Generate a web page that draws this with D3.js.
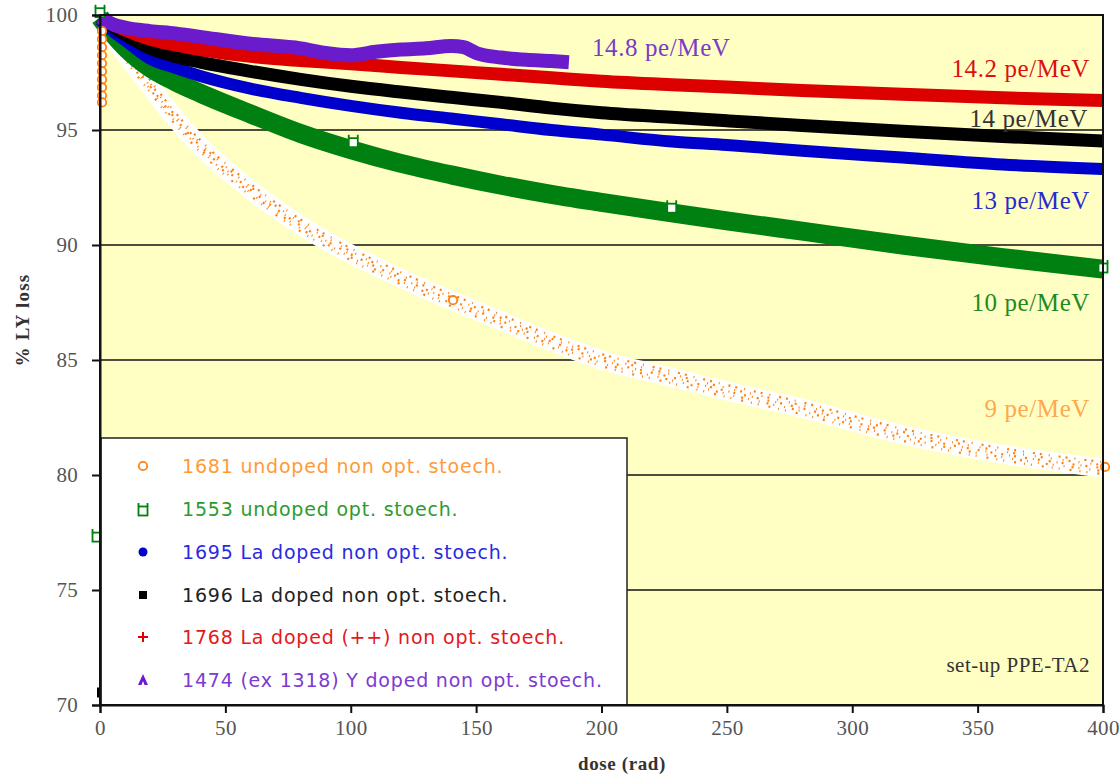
<!DOCTYPE html>
<html>
<head>
<meta charset="utf-8">
<script src="https://cdn.jsdelivr.net/npm/d3@7"></script>
<style>
  html, body { margin: 0; padding: 0; background: #ffffff; }
  svg { display: block; }
</style>
</head>
<body>
<svg id="chart" width="1120" height="775"></svg>
<script>
// Dose grid (rad) shared by the continuous measurement bands
const doses = [0, 5, 10, 20, 30, 40, 60, 80, 100, 120, 140, 160, 180, 200, 228, 250, 280, 320, 360, 400];

// Light yield (%) per crystal along the dose grid
const ly1681 = [99.6, 99.0, 98.3, 96.9, 95.5, 94.3, 92.4, 90.85, 89.6, 88.55, 87.6, 86.7, 85.8, 85.0, 84.25, 83.65, 82.9, 81.75, 80.9, 80.3];
const ly1553 = [99.9, 99.2, 98.6, 97.7, 97.1, 96.6, 95.7, 94.85, 94.15, 93.55, 93.05, 92.6, 92.2, 91.85, 91.4, 91.05, 90.6, 90.0, 89.45, 88.95];
const ly1695 = [99.8, 99.3, 98.9, 98.1, 97.7, 97.35, 96.8, 96.4, 96.05, 95.75, 95.5, 95.25, 95.0, 94.8, 94.5, 94.35, 94.1, 93.8, 93.5, 93.3];
const ly1696 = [99.9, 99.5, 99.15, 98.55, 98.2, 97.95, 97.55, 97.2, 96.9, 96.65, 96.42, 96.2, 95.95, 95.75, 95.55, 95.4, 95.2, 94.95, 94.72, 94.52];
const ly1768 = [99.9, 99.6, 99.35, 98.95, 98.7, 98.5, 98.2, 98.02, 97.88, 97.72, 97.57, 97.42, 97.27, 97.12, 96.97, 96.87, 96.72, 96.55, 96.4, 96.28];

// Crystal 1474 was measured up to ~187 rad only
const doses1474 = [0, 5, 10, 20, 30, 40, 60, 80, 90, 100, 110, 120, 130, 140, 145, 150, 160, 170, 180, 187];
const ly1474 = [99.9, 99.6, 99.45, 99.3, 99.2, 99.05, 98.75, 98.55, 98.35, 98.25, 98.4, 98.5, 98.55, 98.65, 98.6, 98.35, 98.15, 98.05, 98.0, 97.95];

// Individual plotted markers [dose, LY]
const marks1681 = [[0, 99.3], [0, 98.95], [0, 98.6], [0, 98.25], [0, 97.9], [0, 97.55], [0, 97.2], [0, 96.85], [0, 96.5], [0, 96.2], [140, 87.6], [400, 80.35]];
const marks1553 = [[0, 100.1], [101, 94.45], [228, 91.6], [400, 89.0], [0, 77.3]];
const marks1696 = [[0, 70.5]];

// Axis ticks
const xTicks = [0, 50, 100, 150, 200, 250, 300, 350, 400];
const yTicks = [70, 75, 80, 85, 90, 95, 100];

// Legend entries and per-curve annotations
const legendLabels = [
  "1681 undoped non opt. stoech.",
  "1553 undoped opt. stoech.",
  "1695 La doped non opt. stoech.",
  "1696 La doped non opt. stoech.",
  "1768 La doped (++) non opt. stoech.",
  "1474 (ex 1318) Y doped non opt. stoech."
];
const curveNotes = ["9 pe/MeV", "10 pe/MeV", "13 pe/MeV", "14 pe/MeV", "14.2 pe/MeV", "14.8 pe/MeV"];
const noteLY = [82.9, 87.5, 91.95, 95.5, 97.7, 98.6];

const svg = d3.select("#chart");
const pLeft = 100, pRight = 1103, pTop = 15, pBottom = 705;

const x = d3.scaleLinear().domain([0, 400]).range([pLeft, pRight]);
const y = d3.scaleLinear().domain([70, 100]).range([pBottom, pTop]);

const colors = {
  c1681: "#ff8010", c1553: "#008010", c1695: "#0000cc",
  c1696: "#000000", c1768: "#dd0000", c1474: "#6a1ccc"
};
const textColors = ["#ff9a3a", "#2e9a2e", "#2a2ae0", "#222222", "#e4181c", "#7c3ad0"];
const noteColors = ["#ffa850", "#1f8a1f", "#2a2acc", "#333333", "#dd1010", "#7a3cc8"];
const serif = "'Liberation Serif', 'Times New Roman', serif";

// plot background
svg.append("rect")
  .attr("x", pLeft).attr("y", pTop)
  .attr("width", pRight - pLeft).attr("height", pBottom - pTop)
  .attr("fill", "#ffffc4");

// horizontal grid lines
svg.append("g")
  .selectAll("line")
  .data(yTicks.filter(v => v > 70 && v < 100))
  .join("line")
  .attr("x1", pLeft).attr("x2", pRight)
  .attr("y1", d => y(d)).attr("y2", d => y(d))
  .attr("stroke", "#111").attr("stroke-width", 1.6);

const line = (xs) => d3.line()
  .x((d, i) => x(xs[i]))
  .y(d => y(d))
  .curve(d3.curveMonotoneX);

// orange band: white halo with scattered orange points
const orangePath = line(doses)(ly1681);
svg.append("path").attr("d", orangePath)
  .attr("fill", "none").attr("stroke", "#ffffff").attr("stroke-width", 19)
  .attr("stroke-linecap", "round");
[[-6, "2 7 1 9 2 5", 0], [-3, "1 5 2 8 1 11", 3], [0, "2 6 1 4 2 9", 5], [3, "1 7 2 5 1 10", 2], [6, "1 10 2 8 1 6", 7]].forEach(([dy, dash, off]) => {
  svg.append("path").attr("d", orangePath)
    .attr("transform", `translate(0,${dy})`)
    .attr("fill", "none").attr("stroke", colors.c1681)
    .attr("stroke-width", 2.2)
    .attr("stroke-dasharray", dash)
    .attr("stroke-dashoffset", off);
});

// thick measurement bands
const bands = [
  { xs: doses, ys: ly1553, color: colors.c1553, w: 19 },
  { xs: doses, ys: ly1695, color: colors.c1695, w: 12 },
  { xs: doses, ys: ly1696, color: colors.c1696, w: 13 },
  { xs: doses, ys: ly1768, color: colors.c1768, w: 13 },
  { xs: doses1474, ys: ly1474, color: colors.c1474, w: 14 }
];
bands.forEach(b => {
  svg.append("path")
    .attr("d", line(b.xs)(b.ys))
    .attr("fill", "none")
    .attr("stroke", b.color)
    .attr("stroke-width", b.w)
    .attr("stroke-linejoin", "round");
});

// marker shapes
const circleMark = (g, cx, cy, color) => g.append("circle")
  .attr("cx", cx).attr("cy", cy).attr("r", 4.2)
  .attr("fill", "#fff").attr("stroke", color).attr("stroke-width", 1.8);
const squareMark = (g, cx, cy, color) => {
  g.append("rect").attr("x", cx - 4.5).attr("y", cy - 4.5).attr("width", 9).attr("height", 9)
    .attr("fill", "#fff").attr("stroke", color).attr("stroke-width", 1.8);
  g.append("path")
    .attr("d", `M${cx - 4.5},${cy - 4.5}V${cy - 8}M${cx + 4.5},${cy - 4.5}V${cy - 8}`)
    .attr("stroke", color).attr("stroke-width", 1.8);
};

const markG = svg.append("g");
marks1681.forEach(([d, v]) => circleMark(markG, x(d) + 2, y(v), colors.c1681));
marks1553.forEach(([d, v]) => squareMark(markG, x(d) - (d === 0 && v < 90 ? 3 : 0), y(v), colors.c1553));
marks1696.forEach(([d, v]) => markG.append("rect")
  .attr("x", x(d) - 3).attr("y", y(v) - 6).attr("width", 6).attr("height", 10).attr("fill", "#000"));

// legend box
const lg = svg.append("g");
lg.append("rect")
  .attr("x", 101).attr("y", 438).attr("width", 526).attr("height", pBottom - 438)
  .attr("fill", "#ffffff").attr("stroke", "#222").attr("stroke-width", 1.5);
const legendY = [466, 509, 552, 595, 637, 680];
const symX = 143;
circleMark(lg, symX, legendY[0], colors.c1681);
squareMark(lg, symX, legendY[1] + 2, colors.c1553);
lg.append("circle").attr("cx", symX).attr("cy", legendY[2]).attr("r", 4.5).attr("fill", colors.c1695);
lg.append("rect").attr("x", symX - 4).attr("y", legendY[3] - 4).attr("width", 8).attr("height", 8).attr("fill", "#000");
lg.append("path")
  .attr("d", `M${symX - 5},${legendY[4]}H${symX + 5}M${symX},${legendY[4] - 5}V${legendY[4] + 5}`)
  .attr("stroke", colors.c1768).attr("stroke-width", 2);
lg.append("path")
  .attr("d", `M${symX},${legendY[5] - 6}L${symX + 5},${legendY[5] + 5}H${symX + 1.5}L${symX},${legendY[5] + 1}L${symX - 1.5},${legendY[5] + 5}H${symX - 5}Z`)
  .attr("fill", colors.c1474);
lg.selectAll("text.leg")
  .data(legendLabels)
  .join("text")
  .attr("class", "leg")
  .attr("x", 182).attr("y", (d, i) => legendY[i])
  .attr("dy", "0.36em")
  .attr("font-family", "'DejaVu Sans', Verdana, sans-serif")
  .attr("font-size", 19)
  .attr("letter-spacing", 0.8)
  .attr("fill", (d, i) => textColors[i])
  .text(d => d);

// plot frame
svg.append("rect")
  .attr("x", pLeft).attr("y", pTop)
  .attr("width", pRight - pLeft).attr("height", pBottom - pTop)
  .attr("fill", "none").attr("stroke", "#111").attr("stroke-width", 2);

// axes
const xAxis = svg.append("g")
  .attr("transform", `translate(0,${pBottom})`)
  .call(d3.axisBottom(x).tickValues(xTicks).tickSize(8).tickPadding(7).tickFormat(d3.format("d")));
const yAxis = svg.append("g")
  .attr("transform", `translate(${pLeft},0)`)
  .call(d3.axisLeft(y).tickValues(yTicks).tickSize(8).tickPadding(14).tickFormat(d3.format("d")));
[xAxis, yAxis].forEach(a => {
  a.select(".domain").attr("stroke", "#111").attr("stroke-width", 2);
  a.selectAll(".tick line").attr("stroke", "#111").attr("stroke-width", 2);
  a.selectAll(".tick text")
    .attr("font-family", serif)
    .attr("font-size", 21).attr("letter-spacing", 0.3).attr("fill", "#555");
});

// curve annotations
const noteX = [1090, 1090, 1090, 1088, 1090, 592];
svg.append("g").selectAll("text")
  .data(curveNotes)
  .join("text")
  .attr("x", (d, i) => noteX[i])
  .attr("y", (d, i) => y(noteLY[i]))
  .attr("dy", "0.35em")
  .attr("text-anchor", (d, i) => i === 5 ? "start" : "end")
  .attr("font-family", serif)
  .attr("font-size", 25)
  .attr("letter-spacing", 0.6)
  .attr("fill", (d, i) => noteColors[i])
  .text(d => d);

svg.append("text")
  .attr("x", 1090).attr("y", 665).attr("dy", "0.35em")
  .attr("text-anchor", "end")
  .attr("font-family", serif)
  .attr("font-size", 21).attr("letter-spacing", 0.5).attr("fill", "#333")
  .text("set-up PPE-TA2");

// axis titles
svg.append("text")
  .attr("x", 622).attr("y", 770)
  .attr("text-anchor", "middle")
  .attr("font-family", serif)
  .attr("font-weight", "bold").attr("font-size", 19).attr("letter-spacing", 0.6).attr("fill", "#333")
  .text("dose (rad)");
svg.append("text")
  .attr("transform", "translate(29,320) rotate(-90)")
  .attr("text-anchor", "middle")
  .attr("font-family", serif)
  .attr("font-weight", "bold").attr("font-size", 19).attr("letter-spacing", 1.2).attr("fill", "#333")
  .text("% LY loss");
</script>
</body>
</html>
